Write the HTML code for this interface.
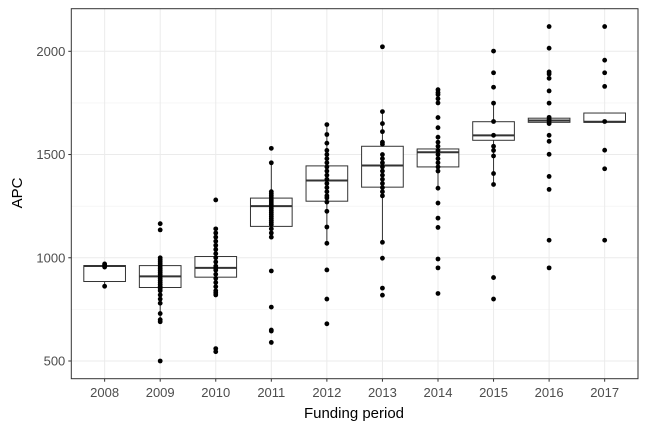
<!DOCTYPE html>
<html><head><meta charset="utf-8"><style>
body{margin:0;background:#fff;}
svg text{font-family:"Liberation Sans",sans-serif;}
</style></head><body>
<svg id="chart" width="648" height="432" xmlns="http://www.w3.org/2000/svg">
<rect x="0" y="0" width="648" height="432" fill="#fff"/>
<g id="grid"></g>
<g id="marks"></g>
<g id="axes"></g>
<text x="354" y="418" font-size="15" text-anchor="middle" fill="#000">Funding period</text>
<text x="22" y="193" font-size="15" text-anchor="middle" fill="#000" transform="rotate(-90 22 193)">APC</text>
</svg>
<script>
const categories = ["2008","2009","2010","2011","2012","2013","2014","2015","2016","2017"];
const q1 = [885,856,906,1152,1274,1342,1440,1569,1656,1656];
const median = [960,910,951,1250,1374,1447,1511,1593,1665,1659];
const q3 = [962,962,1006,1289,1445,1540,1527,1659,1676,1701];
const whiskerLow = [862,690,830,1099,1070,1075,1337,1355,1656,1656];
const whiskerHigh = [962,1004,1140,1460,1645,1708,1527,1749,1676,1701];
const points = [
 [970,965,960,955,862],
 [1165,1135,1000,990,980,970,960,950,940,930,920,910,900,890,880,870,860,850,840,820,800,780,730,700,690,500],
 [1280,1140,1120,1100,1080,1060,1040,1020,1000,980,960,950,940,920,900,880,860,840,830,820,560,545],
 [1530,1460,1320,1310,1300,1290,1280,1270,1260,1250,1240,1230,1220,1210,1200,1190,1180,1170,1160,1140,1120,1100,936,761,650,645,590],
 [1645,1597,1555,1520,1500,1480,1460,1440,1420,1400,1380,1360,1340,1320,1300,1290,1270,1225,1149,1070,941,800,680],
 [2022,1708,1650,1611,1560,1550,1500,1480,1460,1440,1420,1400,1380,1360,1340,1320,1300,1075,998,853,819],
 [1814,1800,1790,1770,1750,1679,1630,1584,1560,1540,1520,1500,1480,1460,1440,1420,1337,1265,1192,1147,994,951,827],
 [2001,1896,1826,1749,1660,1593,1540,1520,1493,1408,1355,904,800],
 [2120,2015,1900,1890,1869,1808,1749,1680,1670,1660,1650,1593,1564,1501,1394,1331,1085,951],
 [2120,1957,1896,1830,1660,1521,1431,1085]
];
const yTicks = [500,1000,1500,2000];

const L=71.3,R=638,T=8.7,B=378.7;
const step=(R-L)/(categories.length-1+1.2);
function xScale(i){return L+0.6*step+i*step;}
function yScale(v){return 361-(v-500)*(309.7/1500);}
const NS="http://www.w3.org/2000/svg";
function mk(tag,attrs,parent){const e=document.createElementNS(NS,tag);for(const k in attrs)e.setAttribute(k,attrs[k]);parent.appendChild(e);return e;}
const grid=document.getElementById('grid'),marks=document.getElementById('marks'),axes=document.getElementById('axes');
// minor grid
for(let i=0;i<yTicks.length-1;i++){
 const g=mk('line',{x1:L,x2:R,y1:yScale((yTicks[i]+yTicks[i+1])/2),y2:yScale((yTicks[i]+yTicks[i+1])/2),stroke:'#f0f0f0','stroke-width':0.6},grid);
 
 
}
yTicks.forEach(t=>{
 const g=mk('line',{x1:L,x2:R,y1:yScale(t),y2:yScale(t),stroke:'#ebebeb','stroke-width':1},grid);
 
 
 const tk=mk('line',{x1:L-3,x2:L,y1:yScale(t),y2:yScale(t),stroke:'#333','stroke-width':1},axes);
 
 
 const tx=mk('text',{x:L-6,y:yScale(t)+4.5,'font-size':13,'text-anchor':'end',fill:'#4d4d4d'},axes);
 tx.textContent=t;
 
 
});
categories.forEach((c,i)=>{
 const x=xScale(i);
 const g=mk('line',{x1:x,x2:x,y1:T,y2:B,stroke:'#ebebeb','stroke-width':1},grid);
 
 
 const tk=mk('line',{x1:x,x2:x,y1:B,y2:B+3,stroke:'#333','stroke-width':1},axes);
 
 
 const tx=mk('text',{x:x,y:397,'font-size':13,'text-anchor':'middle',fill:'#4d4d4d'},axes);
 tx.textContent=c;
 
 
 const bw=step*0.75;
 const grp=mk('g',{},marks);
 
 
 mk('line',{x1:x,x2:x,y1:yScale(q3[i]),y2:yScale(whiskerHigh[i]),stroke:'#333','stroke-width':1},grp);
 mk('line',{x1:x,x2:x,y1:yScale(q1[i]),y2:yScale(whiskerLow[i]),stroke:'#333','stroke-width':1},grp);
 mk('rect',{x:x-bw/2,y:yScale(q3[i]),width:bw,height:Math.max(0.5,yScale(q1[i])-yScale(q3[i])),fill:'#fff',stroke:'#333','stroke-width':1},grp);
 mk('line',{x1:x-bw/2,x2:x+bw/2,y1:yScale(median[i]),y2:yScale(median[i]),stroke:'#333','stroke-width':2},grp);
 points[i].forEach(v=>{
  const p=mk('circle',{cx:x,cy:yScale(v),r:2.4,fill:'#000'},marks);
  
  
 });
});
const border=mk('rect',{x:L,y:T,width:R-L,height:B-T,fill:'none',stroke:'#333','stroke-width':1},axes);


</script>
</body></html>
